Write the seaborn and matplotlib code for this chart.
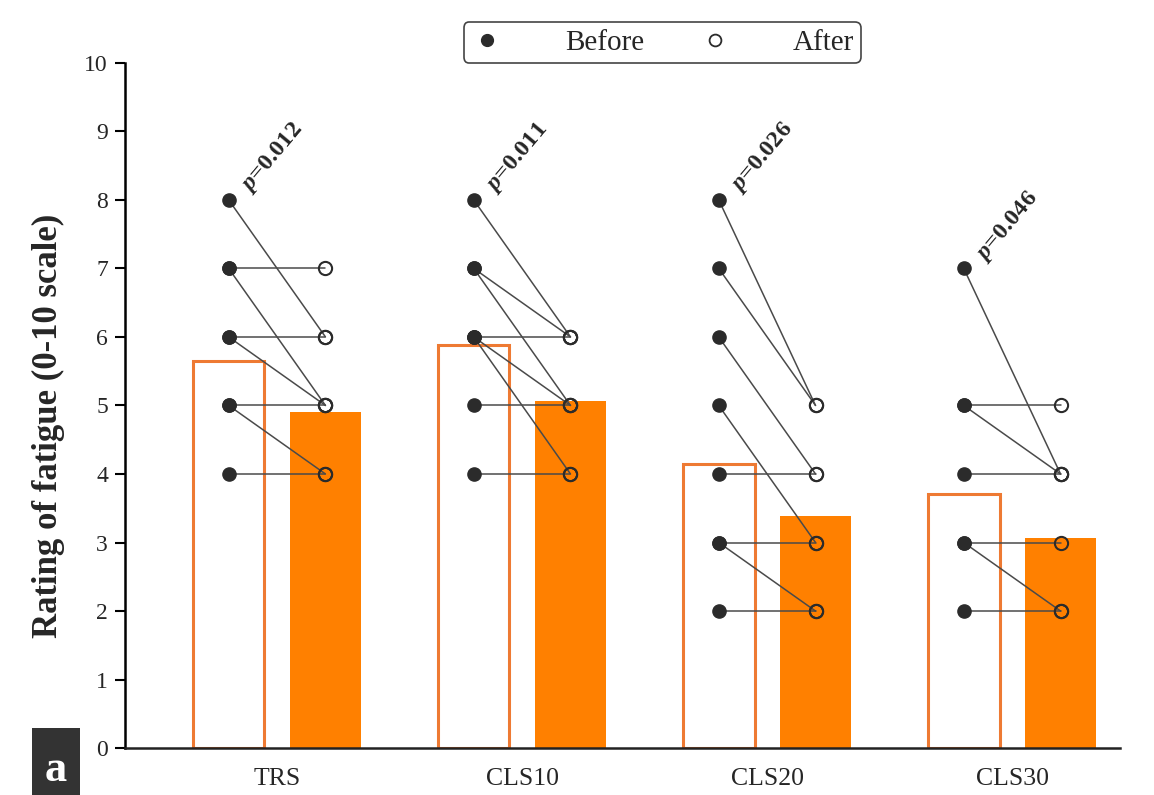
import numpy as np
import pandas as pd
import seaborn as sns
import matplotlib.pyplot as plt
from matplotlib.lines import Line2D
from matplotlib.patches import Rectangle

# Data
categories = ['TRS', 'CLS10', 'CLS20', 'CLS30']
mean_before = [5.65, 5.88, 4.15, 3.71]
mean_after = [4.90, 5.07, 3.38, 3.07]
p_values = ['0.012', '0.011', '0.026', '0.046']

# paired individual ratings (before -> after)
before_trs = [8, 7, 7, 6, 6, 5, 5, 4]
after_trs = [6, 7, 5, 6, 5, 5, 4, 4]
before_cls10 = [8, 7, 7, 6, 6, 6, 5, 4]
after_cls10 = [6, 6, 5, 6, 5, 4, 5, 4]
before_cls20 = [8, 7, 6, 5, 4, 3, 3, 2]
after_cls20 = [5, 5, 4, 3, 4, 3, 2, 2]
before_cls30 = [7, 5, 5, 4, 3, 3, 2]
after_cls30 = [4, 5, 4, 4, 3, 2, 2]

before_all = [before_trs, before_cls10, before_cls20, before_cls30]
after_all = [after_trs, after_cls10, after_cls20, after_cls30]

df = pd.DataFrame({
    'group': categories * 2,
    'time': ['Before'] * 4 + ['After'] * 4,
    'rating': mean_before + mean_after,
})

sns.set_style('ticks')
plt.rcParams['font.family'] = ['Liberation Serif', 'DejaVu Serif']
plt.rcParams['mathtext.fontset'] = 'custom'
plt.rcParams['mathtext.it'] = 'Liberation Serif:italic:bold'
plt.rcParams['mathtext.rm'] = 'Liberation Serif:bold'

orange = '#FF8000'
edge_orange = '#EE7A33'
dot_col = '#2B2B2B'
line_col = '#4A4A4A'

fig = plt.figure(figsize=(11.54, 7.95), dpi=100)
ax = fig.add_axes([0.108, 0.059, 0.8625, 0.862])

width, gap = 0.79, 0.26
sns.barplot(data=df, x='group', y='rating', hue='time', order=categories,
            hue_order=['Before', 'After'], width=width, gap=gap, ax=ax,
            legend=False, errorbar=None)

for bar in ax.containers[0]:
    bar.set_facecolor('white')
    bar.set_edgecolor(edge_orange)
    bar.set_linewidth(2.2)
for bar in ax.containers[1]:
    bar.set_facecolor(orange)
    bar.set_edgecolor(orange)
    bar.set_linewidth(0)

# paired lines and dots
off = width / 4
for i, (b, a) in enumerate(zip(before_all, after_all)):
    xb, xa = i - off, i + off
    for vb, va in zip(b, a):
        ax.plot([xb, xa], [vb, va], color=line_col, lw=1.1, zorder=3)
    ax.plot([xb] * len(b), b, 'o', color=dot_col, ms=9.5, zorder=4)
    ax.plot([xa] * len(a), a, 'o', mfc='none', mec=dot_col, mew=1.5,
            ms=9.5, zorder=4)
    ax.annotate(f'$p$=' + p_values[i], xy=(xb, max(b)), xytext=(19, 2),
                textcoords='offset points', rotation=50, rotation_mode='anchor',
                ha='left', va='bottom', fontsize=17.5, fontweight='bold')

ax.set_ylim(0, 10)
ax.set_xlim(-0.622, 3.44)
ax.set_yticks(range(0, 11))
ax.set_xlabel('')
ax.set_ylabel('Rating of fatigue (0-10 scale)', fontsize=25, fontweight='bold')
ax.yaxis.set_label_coords(-0.06, 0.47)

sns.despine(ax=ax)
ax.spines['left'].set_linewidth(1.8)
ax.spines['bottom'].set_linewidth(1.8)
ax.spines['left'].set_color('black')
ax.spines['bottom'].set_color('#222222')
ax.tick_params(axis='y', length=7, width=1.5, pad=5, labelsize=17, color='black')
ax.tick_params(axis='x', length=0, pad=14, labelsize=18.5)

# legend
handles = [
    Line2D([], [], marker='o', ls='', color=dot_col, ms=8.5, label='Before'),
    Line2D([], [], marker='o', ls='', mfc='none', mec=dot_col, mew=1.3, ms=8.5,
           label='After'),
]
leg = fig.legend(handles=handles, loc='center', bbox_to_anchor=(0.574, 0.9465),
                 ncol=2, fontsize=21, frameon=True, fancybox=True, framealpha=1,
                 handlelength=1.1, handletextpad=2.12, columnspacing=1.88,
                 borderpad=0.25, borderaxespad=0.3)
leg.get_frame().set_edgecolor('#444444')
leg.get_frame().set_linewidth(1.2)

# panel label
fig.patches.append(Rectangle((0.0277, 0.0), 0.0416, 0.084, transform=fig.transFigure,
                             facecolor='#333333', edgecolor='none', zorder=5))
fig.text(0.0485, 0.032, 'a', color='white', fontsize=32, fontweight='bold',
         ha='center', va='center', zorder=6)

fig.savefig('out.png', dpi=100)
